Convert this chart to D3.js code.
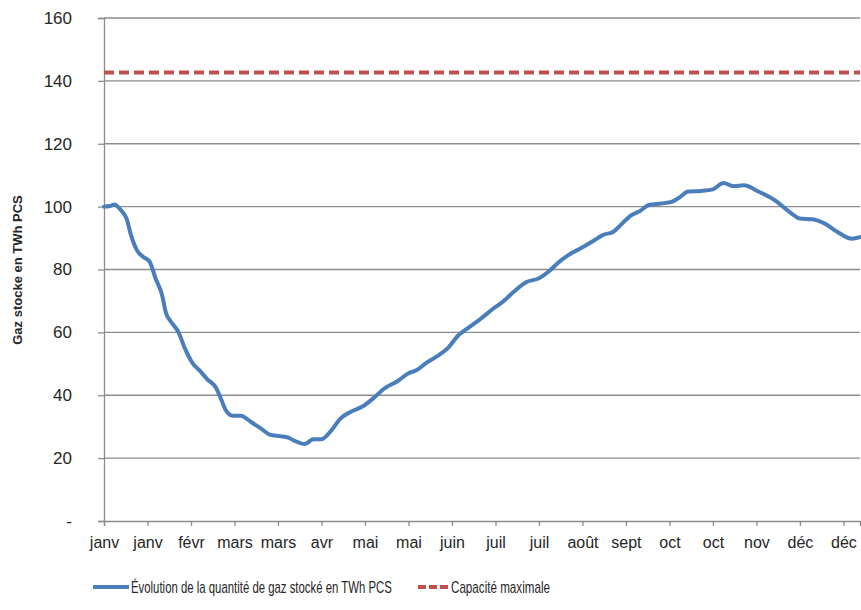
<!DOCTYPE html>
<html>
<head>
<meta charset="utf-8">
<script src="https://cdn.jsdelivr.net/npm/d3@7/dist/d3.min.js"></script>
<style>
  html, body { margin: 0; padding: 0; background: #fff; }
  svg { display: block; }
  text { font-family: "Liberation Sans", Arial, sans-serif; fill: #262626; }
</style>
</head>
<body>
<svg id="chart" width="861" height="610"></svg>
<script>
// ---- data ----
const tickLabels = ["janv","janv","févr","mars","mars","avr","mai","mai","juin","juil","juil","août","sept","oct","oct","nov","déc","déc"];
const tickDays = [0,21,42,63,84,105,126,147,168,189,210,231,252,273,294,315,336,357];
const yTicks = [0,20,40,60,80,100,120,140,160];
const days = [0,3,5,8,11,13,16,19,22,25,28,30,32,36,39,43,46,50,54,57,59,62,66,71,76,80,85,89,92,97,101,105,110,114,119,125,130,135,142,147,151,155,161,166,171,176,182,188,193,198,204,210,215,219,224,230,236,241,246,250,254,259,263,269,274,278,282,288,294,299,304,309,316,320,324,327,332,336,342,348,354,361,365];
const stock = [100,100.2,100.7,99,96,91,86,84,82.5,77,72,66,63.7,60,55,50,48,45,42.5,38,35,33.5,33.5,31.5,29.3,27.5,27,26.5,25.5,24.5,26,26,29,32.5,34.7,36.5,39,42,44.6,47,48,50,52.5,55,59,61.5,64.4,67.6,70,73,76,77.2,79.5,82,84.5,86.7,89,91,92,94.5,97,98.7,100.5,101,101.5,103,104.8,105,105.5,107.5,106.5,106.8,104.8,103.5,102,100.4,97.8,96.2,96,94.6,92,89.8,90.3];
const capacity = 142.7;
const seriesNames = ["Évolution de la quantité de gaz stocké en TWh PCS", "Capacité maximale"];
const yTitle = "Gaz stocke en TWh PCS";

// ---- chart ----
const svg = d3.select("#chart");
const x = d3.scaleLinear().domain([0, 365]).range([104, 860]);
const y = d3.scaleLinear().domain([0, 160]).range([521, 18]);
const blue = "#4a7ebb", red = "#c0504d", grid = "#8c8c8c";
const font = "'Liberation Sans', Arial, sans-serif";

// gridlines
svg.append("g").selectAll("line").data(yTicks.filter(d => d > 0)).join("line")
  .attr("x1", x(0)).attr("x2", 860)
  .attr("y1", d => y(d)).attr("y2", d => y(d))
  .attr("stroke", grid).attr("stroke-width", 1.3);

// y axis
const yAxis = svg.append("g").attr("transform", `translate(${x(0)},0)`)
  .call(d3.axisLeft(y).tickValues(yTicks).tickSize(6).tickPadding(26)
    .tickFormat(d => d === 0 ? "-" : d));
yAxis.select(".domain").attr("stroke", grid).attr("stroke-width", 1.3);
yAxis.selectAll(".tick line").attr("stroke", grid).attr("stroke-width", 1.3);
yAxis.selectAll(".tick text").attr("x", -32).attr("text-anchor", "end")
  .attr("font-size", 17).attr("fill", "#404040").style("font-family", font);

// x axis
const xAxis = svg.append("g").attr("transform", `translate(0,${y(0)})`)
  .call(d3.axisBottom(x).tickValues(tickDays).tickSize(5).tickPadding(11)
    .tickFormat((d, i) => tickLabels[i]));
xAxis.select(".domain").attr("stroke", grid).attr("stroke-width", 1.3);
xAxis.selectAll(".tick line").attr("stroke", grid).attr("stroke-width", 1.3);
xAxis.selectAll(".tick text").attr("font-size", 16).attr("fill", "#333")
  .style("font-family", font);

// capacity line
svg.append("path")
  .datum([0, 365])
  .attr("d", d3.line().x(d => x(d)).y(() => y(capacity)))
  .attr("stroke", red).attr("stroke-width", 4).attr("stroke-dasharray", "10,5")
  .attr("fill", "none");

// stock line
const pts = days.map((d, i) => [d, stock[i]]);
svg.append("path")
  .datum(pts)
  .attr("d", d3.line().x(d => x(d[0])).y(d => y(d[1])).curve(d3.curveMonotoneX))
  .attr("stroke", blue).attr("stroke-width", 4).attr("fill", "none")
  .attr("stroke-linejoin", "round").attr("stroke-linecap", "round");

// y title
svg.append("text")
  .attr("transform", `translate(22,270) rotate(-90)`)
  .attr("text-anchor", "middle")
  .attr("font-size", 13).attr("font-weight", "bold").attr("fill", "#000")
  .text(yTitle);

// legend (text compressed horizontally to mimic the narrow original font)
const lg = svg.append("g");
function legendText(tx, ty, width, str) {
  const t = lg.append("text").attr("x", 0).attr("y", 0)
    .attr("font-size", 16).attr("fill", "#333").text(str);
  const len = t.node().getComputedTextLength();
  t.attr("transform", `translate(${tx},${ty}) scale(${width / len},1)`);
}
lg.append("line").attr("x1", 93).attr("x2", 129).attr("y1", 587).attr("y2", 587)
  .attr("stroke", blue).attr("stroke-width", 4);
legendText(131, 593, 261, seriesNames[0]);
lg.append("line").attr("x1", 418).attr("x2", 449).attr("y1", 587).attr("y2", 587)
  .attr("stroke", red).attr("stroke-width", 4).attr("stroke-dasharray", "8,3");
legendText(451, 593, 99, seriesNames[1]);
</script>
</body>
</html>
